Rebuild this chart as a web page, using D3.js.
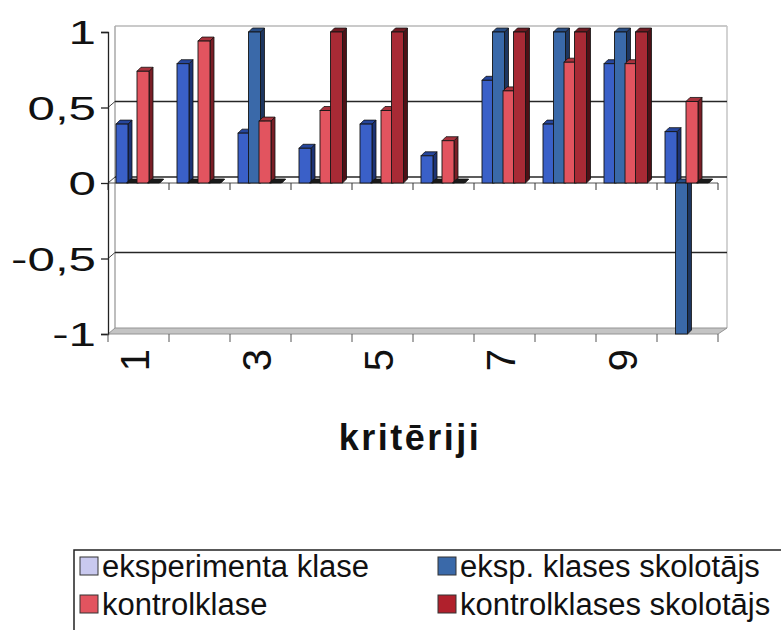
<!DOCTYPE html>
<html>
<head>
<meta charset="utf-8">
<script src="https://cdn.jsdelivr.net/npm/d3@7"></script>
<style>
  html, body { margin: 0; padding: 0; background: #fff; }
  svg { display: block; font-family: Arial, "Liberation Sans", sans-serif; }
</style>
</head>
<body>
<svg id="chart" width="781" height="630"></svg>
<script>
// Criteria on the category axis
const categories = ["1", "2", "3", "4", "5", "6", "7", "8", "9", "10"];
// Series values per criterion
const eksperimentaKlase     = [0.39, 0.79, 0.33, 0.23, 0.39, 0.18, 0.68, 0.39, 0.79, 0.34];
const ekspKlasesSkolotajs   = [0, 0, 1, 0, 0, 0, 1, 1, 1, -1];
const kontrolklase          = [0.74, 0.94, 0.41, 0.48, 0.48, 0.28, 0.61, 0.80, 0.79, 0.54];
const kontrolklasesSkolotajs= [0, 0, 0, 1, 1, 0, 1, 1, 1, 0];
const seriesNames = ["eksperimenta klase", "eksp. klases skolotājs", "kontrolklase", "kontrolklases skolotājs"];
const valueTicks = [1, 0.5, 0, -0.5, -1];
const axisTitle = "kritēriji";

const seriesValues = [eksperimentaKlase, ekspKlasesSkolotajs, kontrolklase, kontrolklasesSkolotajs];
const palette = [
  { front: "#3a60c8", side: "#1c3375", top: "#26469c", swatch: "#c9c9ef" },
  { front: "#3a69a9", side: "#1d3660", top: "#284d84", swatch: "#3a69a9" },
  { front: "#e2545f", side: "#7a1e26", top: "#a8323c", swatch: "#e2545f" },
  { front: "#a82a35", side: "#4e1016", top: "#701a22", swatch: "#b0202c" }
];

const svg = d3.select("#chart");

// Front plane of the plot and the depth offset of the back wall
const x0 = 108, x1 = 718;
const depthX = 7, depthY = -6;
const y = d3.scaleLinear().domain([-1, 1]).range([334, 32]);
const xBand = d3.scaleBand().domain(categories).range([x0, x1]).paddingInner(0).paddingOuter(0);
const slot = d3.scaleBand().domain(d3.range(seriesValues.length)).range([8, 50]).padding(0);

const g = svg.append("g");

// Back wall frame
g.append("line").attr("x1", x0 + depthX).attr("x2", x1 + depthX + 2)
  .attr("y1", y(1) + depthY).attr("y2", y(1) + depthY)
  .attr("stroke", "#b8b8b8").attr("stroke-width", 1.5);
g.append("line").attr("x1", x1 + depthX + 2).attr("x2", x1 + depthX + 2)
  .attr("y1", y(1) + depthY).attr("y2", y(-1) + depthY)
  .attr("stroke", "#c4c4c4").attr("stroke-width", 1.5);
g.append("line").attr("x1", x0 + depthX).attr("x2", x0 + depthX)
  .attr("y1", y(1) + depthY).attr("y2", y(-1) + depthY)
  .attr("stroke", "#a8a8a8").attr("stroke-width", 1.5);

// Gridlines on the back wall, with the short connector across the side wall
[0.5, 0, -0.5].forEach(v => {
  g.append("line").attr("x1", x0 + depthX).attr("x2", x1 + depthX + 2)
    .attr("y1", y(v) + depthY).attr("y2", y(v) + depthY)
    .attr("stroke", "#262626").attr("stroke-width", 1.3);
  g.append("line").attr("x1", x0).attr("x2", x0 + depthX)
    .attr("y1", y(v)).attr("y2", y(v) + depthY)
    .attr("stroke", "#444").attr("stroke-width", 1);
});

// Floor
g.append("polygon")
  .attr("points", [[x0, y(-1)], [x1, y(-1)], [x1 + depthX + 2, y(-1) + depthY], [x0 + depthX, y(-1) + depthY]].map(p => p.join(",")).join(" "))
  .attr("fill", "#c4c4c4").attr("stroke", "#949494").attr("stroke-width", 1);

// Category axis line at zero with ticks at the category boundaries
g.append("line").attr("x1", x0).attr("x2", x1).attr("y1", y(0)).attr("y2", y(0))
  .attr("stroke", "#555").attr("stroke-width", 1);
const boundaries = categories.map(c => xBand(c)).concat([x1]);
g.selectAll("line.ztick").data(boundaries).join("line").attr("class", "ztick")
  .attr("x1", d => d).attr("x2", d => d).attr("y1", y(0)).attr("y2", y(0) + 7)
  .attr("stroke", "#333").attr("stroke-width", 1);

// Value axis on the front edge
const yAxis = d3.axisLeft(y).tickValues(valueTicks).tickSize(7).tickFormat("");
const yAxisG = g.append("g").attr("transform", `translate(${x0},0)`).call(yAxis);
yAxisG.select(".domain").attr("stroke", "#222").attr("stroke-width", 1.3);
yAxisG.selectAll(".tick line").attr("stroke", "#222").attr("stroke-width", 1.3);

const fmt = v => String(v).replace(".", ",");
g.selectAll("text.ylab").data(valueTicks).join("text").attr("class", "ylab")
  .attr("transform", d => `translate(96,${y(d) + 12}) scale(1.45,1)`)
  .attr("text-anchor", "end").attr("font-size", 34).attr("fill", "#111")
  .text(fmt);

// Bars drawn as simple 3D columns, category by category
const d = 4, frontW = 12;
categories.forEach((c, ci) => {
  seriesValues.forEach((vals, si) => {
    const v = vals[ci];
    const bx = xBand(c) + slot(si);
    const yTop = y(Math.max(v, 0)), yBot = y(Math.min(v, 0));
    const col = palette[si];
    const bar = g.append("g");
    bar.append("polygon")
      .attr("points", [[bx + frontW, yTop], [bx + frontW + d, yTop - d], [bx + frontW + d, yBot - d], [bx + frontW, yBot]].map(p => p.join(",")).join(" "))
      .attr("fill", col.side).attr("stroke", "#111").attr("stroke-width", 0.8);
    bar.append("polygon")
      .attr("points", [[bx, yTop], [bx + d, yTop - d], [bx + frontW + d, yTop - d], [bx + frontW, yTop]].map(p => p.join(",")).join(" "))
      .attr("fill", v === 0 ? "#1a1a1a" : col.top).attr("stroke", "#111").attr("stroke-width", 0.8);
    if (yBot - yTop > 0) {
      bar.append("rect").attr("x", bx).attr("y", yTop).attr("width", frontW).attr("height", yBot - yTop)
        .attr("fill", col.front).attr("stroke", "#151515").attr("stroke-width", 0.9);
    }
  });
});

// Bottom ticks and rotated category labels
g.selectAll("line.btick").data(boundaries).join("line").attr("class", "btick")
  .attr("x1", d => d).attr("x2", d => d).attr("y1", y(-1)).attr("y2", y(-1) + 8)
  .attr("stroke", "#555").attr("stroke-width", 1);
g.selectAll("text.xlab").data(categories.filter((c, i) => i % 2 === 0)).join("text").attr("class", "xlab")
  .attr("transform", c => `translate(${xBand(c) + xBand.bandwidth() / 2 + 10},360) rotate(-90)`)
  .attr("text-anchor", "middle").attr("font-size", 40).attr("fill", "#111")
  .text(c => c);

// Axis title
svg.append("text").attr("x", 410).attr("y", 450).attr("text-anchor", "middle")
  .attr("font-size", 36).attr("font-weight", "bold").attr("letter-spacing", 2.5).attr("fill", "#111")
  .text(axisTitle);

// Legend box
const leg = svg.append("g");
leg.append("path").attr("d", "M74,630 V550 H781").attr("fill", "none").attr("stroke", "#222").attr("stroke-width", 1.5);
const legPos = [[80, 577], [438, 577], [80, 615], [438, 615]];
seriesNames.forEach((name, i) => {
  const [lx, ly] = legPos[i];
  leg.append("rect").attr("x", lx).attr("y", ly - 20).attr("width", 18).attr("height", 18)
    .attr("fill", palette[i].swatch).attr("stroke", "#333").attr("stroke-width", 1);
  leg.append("text").attr("x", lx + 22).attr("y", ly).attr("font-size", 31).attr("fill", "#111")
    .text(name);
});
</script>
</body>
</html>
